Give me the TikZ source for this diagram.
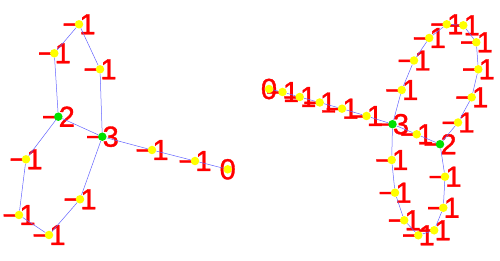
\documentclass[tikz,border=0pt]{standalone}
\usepackage{fontspec}
\setmainfont{Liberation Sans}
\newfontfamily\labfont{Liberation Sans}[FakeBold=1.2]
\pgfdeclarelayer{bg}
\pgfdeclarelayer{fg}
\pgfsetlayers{bg,main,fg}
\definecolor{edgeblue}{RGB}{100,100,255}
\definecolor{dotyellow}{RGB}{255,255,0}
\definecolor{dotgreen}{RGB}{0,225,0}
\definecolor{labred}{RGB}{255,0,0}
\tikzset{
  ydot/.style={circle,fill=dotyellow,inner sep=0pt,minimum size=8.5pt},
  gdot/.style={circle,fill=dotgreen,inner sep=0pt,minimum size=8.5pt},
  lab/.style={inner sep=0pt,text=labred,font=\labfont\fontsize{29}{29}\selectfont},
  edge/.style={draw=edgeblue,line width=0.5pt}
}
\begin{document}
\begin{tikzpicture}[x=1pt,y=-1pt]
\useasboundingbox (0,0) rectangle (500,261);
\begin{pgfonlayer}{fg}
% left graph
\node[ydot] (a1) at (79,24.3) {};
\node[ydot] (a2) at (54.3,53.3) {};
\node[ydot] (a3) at (100,69.3) {};
\node[gdot] (g2) at (58.3,116.7) {};
\node[gdot] (g3) at (102.3,136.7) {};
\node[ydot] (b1) at (152,150) {};
\node[ydot] (b2) at (195,161) {};
\node[ydot] (b3) at (227.7,169.3) {};
\node[ydot] (c1) at (26,159.3) {};
\node[ydot] (c2) at (19,215) {};
\node[ydot] (c3) at (49,235) {};
\node[ydot] (c4) at (80,199.3) {};
% right graph
\node[ydot] (r0) at (269,89) {};
\node[ydot] (r1) at (282.5,92) {};
\node[ydot] (r2) at (299.7,97) {};
\node[ydot] (r3) at (319.7,102.5) {};
\node[ydot] (r4) at (342,108.7) {};
\node[ydot] (r5) at (366.5,116) {};
\node[gdot] (h3) at (392.5,124.2) {};
\node[ydot] (m1) at (416.7,134.3) {};
\node[gdot] (h2) at (440,144.2) {};
\node[ydot] (u1) at (401.7,90) {};
\node[ydot] (u2) at (414,60.5) {};
\node[ydot] (u3) at (429.2,38) {};
\node[ydot] (u4) at (446.7,24.3) {};
\node[ydot] (u5) at (463.3,25.3) {};
\node[ydot] (u6) at (476.3,42.3) {};
\node[ydot] (u7) at (478.3,69.3) {};
\node[ydot] (u8) at (471.7,97.3) {};
\node[ydot] (u9) at (458,122.5) {};
\node[ydot] (l1) at (391.7,160) {};
\node[ydot] (l2) at (395,192.7) {};
\node[ydot] (l3) at (404.2,220.3) {};
\node[ydot] (l4) at (418.3,235.3) {};
\node[ydot] (l5) at (434.2,230.3) {};
\node[ydot] (l6) at (443.3,207.8) {};
\node[ydot] (l7) at (445,176.7) {};
\end{pgfonlayer}
\begin{pgfonlayer}{bg}
\foreach \n in {a1,a2,a3,b1,b2,c1,c2,c3,c4,r1,r2,r3,r4,r5,m1,u1,u2,u3,u4,u5,u6,u7,u8,u9,l1,l2,l3,l4,l5,l6,l7}
  \node[lab] (t\n) at (\n) {−1};
\node[lab] (tg2) at (g2) {−2};
\node[lab] (tg3) at (g3) {−3};
\node[lab] (th2) at (h2) {−2};
\node[lab] (th3) at (h3) {−3};
\node[lab] (tb3) at (b3) {0};
\node[lab] (tr0) at (r0) {0};
\end{pgfonlayer}
% edges
\draw[edge] (a1) -- (a2) -- (g2) -- (g3) -- (a3) -- (a1);
\draw[edge] (g3) -- (b1) -- (b2) -- (b3);
\draw[edge] (g2) -- (c1) -- (c2) -- (c3) -- (c4) -- (g3);
\draw[edge] (r0) -- (r1) -- (r2) -- (r3) -- (r4) -- (r5) -- (h3);
\draw[edge] (h3) -- (u1) -- (u2) -- (u3) -- (u4) -- (u5) -- (u6) -- (u7) -- (u8) -- (u9) -- (h2);
\draw[edge] (h3) -- (m1) -- (h2);
\draw[edge] (h3) -- (l1) -- (l2) -- (l3) -- (l4) -- (l5) -- (l6) -- (l7) -- (h2);
\end{tikzpicture}
\end{document}
